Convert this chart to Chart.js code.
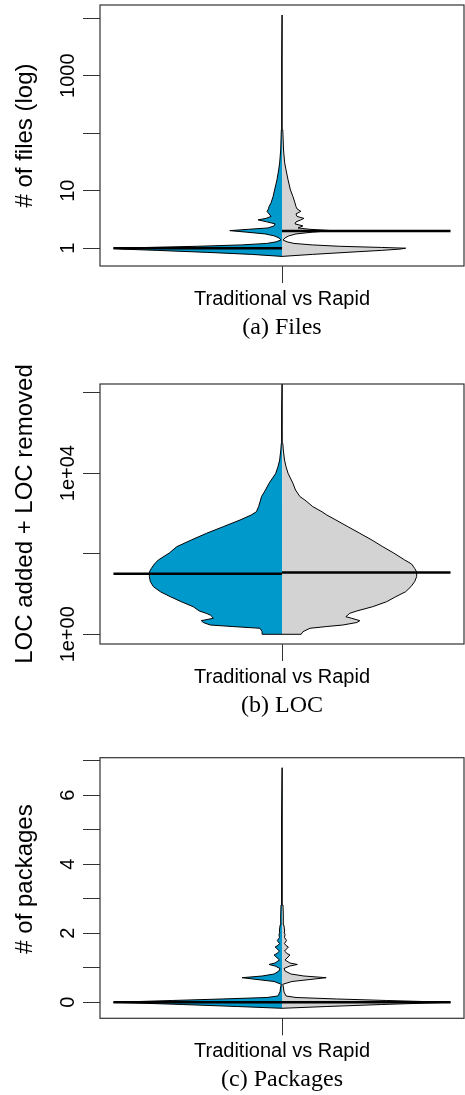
<!DOCTYPE html>
<html>
<head>
<meta charset="utf-8">
<script src="https://cdn.jsdelivr.net/npm/chart.js@4.4.0/dist/chart.umd.min.js"></script>
<style>
  body { margin: 0; background: #fff; }
  canvas { position: absolute; left: 0; }
</style>
</head>
<body>
<canvas id="files" width="465" height="350" style="top:0px"></canvas>
<canvas id="loc" width="465" height="365" style="top:355px"></canvas>
<canvas id="packages" width="465" height="370" style="top:725px"></canvas>
<script>
var groupLabel = 'Traditional vs Rapid';
var groupColors = ['#0099cc', '#d3d3d3'];

// (a) Files - levels on the y axis, half widths of each bean (1 = length of the median line)
var filesLevels = [0.72, 0.78, 0.845, 0.916, 0.964, 1, 1.03, 1.08, 1.14, 1.21, 1.29, 1.39, 1.51, 1.64, 1.77, 1.9, 2.02, 2.13, 2.25, 2.44, 2.65, 2.87, 3.11, 3.3, 3.57, 3.95, 4.37, 4.83, 5.29, 6.14, 7.9, 10.3, 15.4, 23, 30.4, 51, 114, 380, 1880, 11400];
var filesTraditional = [0, .18, .44, .74, .95, 1.0, .80, .50, .24, .09, .035, .006, .018, .047, .10, .21, .31, .20, .083, .047, .041, .09, .142, .095, .065, .077, .089, .08, .077, .065, .053, .044, .030, .020, .014, .0077, .0041, .0024, .0015, 0];
var filesRapid = [0, .18, .38, .59, .70, .734, .59, .34, .18, .071, .03, .006, .018, .041, .083, .18, .296, .166, .095, .124, .077, .083, .112, .13, .089, .083, .112, .089, .083, .077, .065, .05, .036, .024, .016, .009, .0047, .0024, .0015, 0];
var filesMedians = [1, 2];
var filesTicks = [1, 10, 100, 1000, 10000];
var filesTickLabels = ['1', '10', '', '1000', ''];

// (b) LOC
var locLevels = [1, 1.16, 1.41, 1.56, 1.7, 1.96, 2.18, 2.49, 2.73, 3.01, 3.32, 3.79, 4.84, 6.44, 8.57, 11.4, 15.2, 20.2, 26.9, 35.2, 43.4, 55.5, 69.8, 104, 149, 219, 321, 468, 686, 913, 1100, 1470, 2150, 2600, 3810, 5580, 9890, 14400, 21100, 37400, 54900, 88200, 368000, 1630000];
var locTraditional = [.118, .118, .130, .296, .426, .467, .479, .408, .414, .426, .450, .491, .527, .598, .663, .722, .763, .781, .787, .787, .775, .757, .734, .669, .625, .538, .448, .349, .249, .183, .152, .139, .127, .122, .098, .077, .037, .024, .014, .0071, .0041, .003, .0015, 0];
var locRapid = [.114, .124, .166, .266, .361, .444, .462, .414, .379, .391, .402, .444, .538, .621, .675, .734, .765, .787, .799, .799, .787, .769, .728, .663, .598, .533, .462, .391, .320, .266, .237, .183, .136, .107, .080, .065, .036, .024, .015, .0077, .0047, .0036, .0018, 0];
var locMedians = [32, 34];
var locTicks = [1, 100, 10000, 1000000];
var locTickLabels = ['1e+00', '', '1e+04', ''];

// (c) Packages
var pkgLevels = [-0.174, -0.122, -0.064, 0, 0.052, 0.096, 0.139, 0.183, 0.299, 0.414, 0.522, 0.603, 0.661, 0.713, 0.762, 0.82, 0.907, 0.98, 1.052, 1.096, 1.139, 1.226, 1.371, 1.414, 1.487, 1.603, 1.646, 1.704, 1.791, 1.878, 1.965, 2.038, 2.096, 2.241, 2.53, 2.82, 3.255, 4.125, 5.284, 6.8];
var pkgTraditional = [0, .266, .592, 1.0, .651, .355, .089, .024, .012, .0089, .0047, .047, .148, .237, .118, .047, .018, .012, .041, .077, .041, .015, .047, .030, .015, .041, .024, .015, .028, .015, .018, .012, .015, .011, .0077, .0059, .0036, .0024, .0018, 0];
var pkgRapid = [0, .266, .592, 1.0, .621, .325, .083, .024, .012, .0089, .0047, .059, .166, .262, .130, .053, .018, .012, .047, .091, .047, .018, .047, .030, .015, .038, .024, .015, .027, .015, .018, .012, .015, .011, .0077, .0059, .0036, .0024, .0018, 0];
var pkgMedians = [0, 0];
var pkgTicks = [0, 1, 2, 3, 4, 5, 6, 7];
var pkgTickLabels = ['0', '', '2', '', '4', '', '6', ''];

var sans = '"Liberation Sans", Arial, sans-serif';
var serif = '"Liberation Serif", "Times New Roman", serif';

// box around the plot region
var frameBox = {
    id: 'frameBox',
    afterDatasetsDraw: function (chart) {
        var a = chart.chartArea, ctx = chart.ctx;
        ctx.save();
        ctx.strokeStyle = '#333';
        ctx.lineWidth = 1.2;
        ctx.strokeRect(a.left, a.top, a.right - a.left, a.bottom - a.top);
        ctx.restore();
    }
};

// y title, drawn without Chart.js squeezing it to the plot height
var sideTitle = {
    id: 'sideTitle',
    afterDraw: function (chart, args, opts) {
        var a = chart.chartArea, ctx = chart.ctx;
        ctx.save();
        ctx.translate(opts.x, (a.top + a.bottom) / 2 + (opts.dy || 0));
        ctx.rotate(-Math.PI / 2);
        ctx.font = '24px ' + sans;
        ctx.fillStyle = '#000';
        ctx.textAlign = 'center';
        ctx.textBaseline = 'middle';
        ctx.fillText(opts.text, 0, 0);
        ctx.restore();
    }
};

function halfShape(levels, widths, side) {
    var pts = [{ x: 0, y: levels[0] }];
    for (var i = 0; i < levels.length; i++) {
        pts.push({ x: side * widths[i], y: levels[i] });
    }
    pts.push({ x: 0, y: levels[levels.length - 1] });
    return pts;
}

function beanDatasets(levels, left, right, medians) {
    return [
        { data: [{ x: -1, y: medians[0] }, { x: 0, y: medians[0] }], borderColor: '#000', borderWidth: 2.5, fill: false, order: 0 },
        { data: [{ x: 0, y: medians[1] }, { x: 1, y: medians[1] }], borderColor: '#000', borderWidth: 2.5, fill: false, order: 0 },
        { data: halfShape(levels, left, -1), borderColor: '#000', borderWidth: 1, fill: false, order: 1 },
        { data: halfShape(levels, right, 1), borderColor: '#000', borderWidth: 1, fill: false, order: 1 },
        { data: halfShape(levels, left, -1), borderColor: 'rgba(0,0,0,0)', borderWidth: 0, backgroundColor: groupColors[0], fill: 'shape', order: 2 },
        { data: halfShape(levels, right, 1), borderColor: 'rgba(0,0,0,0)', borderWidth: 0, backgroundColor: groupColors[1], fill: 'shape', order: 2 }
    ];
}

function beanChart(id, cfg) {
    return new Chart(document.getElementById(id), {
        type: 'line',
        data: { datasets: beanDatasets(cfg.levels, cfg.left, cfg.right, cfg.medians) },
        options: {
            responsive: false,
            animation: false,
            events: [],
            layout: { padding: { top: cfg.top, right: 1, bottom: cfg.bottom, left: 0 } },
            elements: { point: { radius: 0 }, line: { tension: 0, borderCapStyle: 'butt' } },
            plugins: {
                legend: { display: false },
                tooltip: { enabled: false },
                title: {
                    display: true,
                    position: 'bottom',
                    fullSize: false,
                    text: cfg.caption,
                    color: '#000',
                    padding: { top: 0, bottom: 0 },
                    font: { family: serif, size: 24, weight: 'normal' }
                },
                sideTitle: { text: cfg.yTitle, x: 25, dy: cfg.titleShift || 0 }
            },
            scales: {
                x: {
                    type: 'linear',
                    min: -1.08,
                    max: 1.08,
                    afterBuildTicks: function (s) { s.ticks = [{ value: 0 }]; },
                    afterFit: function (s) { s.height = 47; },
                    grid: { drawOnChartArea: false, tickLength: 17, color: '#333' },
                    border: { display: false },
                    ticks: {
                        callback: function () { return groupLabel; },
                        autoSkip: false,
                        maxRotation: 0,
                        padding: 4,
                        color: '#000',
                        font: { family: sans, size: 20 }
                    }
                },
                y: {
                    type: cfg.yType,
                    min: cfg.min,
                    max: cfg.max,
                    afterBuildTicks: function (s) { s.ticks = cfg.ticks.map(function (v) { return { value: v }; }); },
                    afterFit: function (s) { s.width = 100; },
                    grid: { drawOnChartArea: false, tickLength: 17, color: '#333' },
                    border: { display: false },
                    ticks: {
                        callback: function (v, i) { return cfg.tickLabels[i]; },
                        autoSkip: false,
                        minRotation: 90,
                        maxRotation: 90,
                        crossAlign: 'center',
                        padding: cfg.tickPad,
                        color: '#000',
                        font: { family: sans, size: 20 }
                    }
                }
            }
        },
        plugins: [frameBox, sideTitle]
    });
}

beanChart('files', {
    levels: filesLevels, left: filesTraditional, right: filesRapid, medians: filesMedians,
    ticks: filesTicks, tickLabels: filesTickLabels,
    yType: 'logarithmic', min: 0.49, max: 17000, tickPad: -8,
    top: 5, bottom: 8.2,
    yTitle: '# of files (log)', caption: '(a) Files'
});

beanChart('loc', {
    levels: locLevels, left: locTraditional, right: locRapid, medians: locMedians,
    ticks: locTicks, tickLabels: locTickLabels,
    yType: 'logarithmic', min: 0.574, max: 1630000, tickPad: -14,
    top: 29, bottom: 0.2,
    yTitle: 'LOC added + LOC removed', caption: '(b) LOC'
});

beanChart('packages', {
    levels: pkgLevels, left: pkgTraditional, right: pkgRapid, medians: pkgMedians,
    ticks: pkgTicks, tickLabels: pkgTickLabels,
    yType: 'linear', min: -0.464, max: 7.09, tickPad: 9,
    top: 32.7, bottom: 0.9, titleShift: -9,
    yTitle: '# of packages', caption: '(c) Packages'
});
</script>
</body>
</html>
